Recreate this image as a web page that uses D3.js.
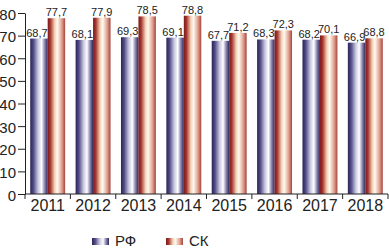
<!DOCTYPE html>
<html>
<head>
<meta charset="utf-8">
<script src="https://cdn.jsdelivr.net/npm/d3@7"></script>
<style>
  body { margin: 0; background: #fff; }
  svg text { font-family: "Liberation Sans Narrow", "Arial Narrow", "Liberation Sans", sans-serif; fill: #222; }
</style>
</head>
<body>
<svg id="chart" width="389" height="248"></svg>
<script>
let years = ["2011", "2012", "2013", "2014", "2015", "2016", "2017", "2018"];
let rf = [68.7, 68.1, 69.3, 69.1, 67.7, 68.3, 68.2, 66.9];
let sk = [77.7, 77.9, 78.5, 78.8, 71.2, 72.3, 70.1, 68.8];
let seriesNames = ["РФ", "СК"];
let yTicks = [0, 10, 20, 30, 40, 50, 60, 70, 80];

let svg = d3.select("#chart");
let mLeft = 25, mRight = 388, mTop = 13, mBottom = 194;

let x = d3.scaleBand().domain(years).range([mLeft, mRight]).paddingInner(0.23).paddingOuter(0.115);
let y = d3.scaleLinear().domain([0, 80]).range([mBottom, mTop]);
let barW = x.bandwidth() / 2;

// cylinder-like gradients
let defs = svg.append("defs");
function grad(id, stops) {
    let g = defs.append("linearGradient").attr("id", id)
        .attr("x1", "0%").attr("x2", "100%").attr("y1", "0%").attr("y2", "0%");
    stops.forEach(s => g.append("stop").attr("offset", s[0]).attr("stop-color", s[1]));
}
grad("gBlue", [["0%", "#2a2456"], ["18%", "#4e4a84"], ["45%", "#c9c7df"], ["65%", "#ffffff"], ["82%", "#8e8ab4"], ["100%", "#2c2658"]]);
grad("gRed", [["0%", "#7a1a1a"], ["15%", "#a5342e"], ["40%", "#f3d2b6"], ["55%", "#fffaf1"], ["80%", "#e2a392"], ["100%", "#a4463e"]]);
let fills = ["url(#gBlue)", "url(#gRed)"];

// y axis
let yAxis = svg.append("g")
    .attr("transform", `translate(${mLeft},0)`)
    .call(d3.axisLeft(y).tickValues(yTicks).tickSize(7).tickSizeOuter(0).tickPadding(2));
yAxis.selectAll("text").style("font-size", "15px").attr("dy", "0.4em");
yAxis.selectAll("line, path").attr("stroke", "#222");

// bars
[rf, sk].forEach((vals, si) => {
    svg.append("g").selectAll("rect")
        .data(vals)
        .enter()
        .append("rect")
        .attr("x", (d, i) => x(years[i]) + si * barW)
        .attr("y", d => y(d))
        .attr("width", barW)
        .attr("height", d => y(0) - y(d))
        .attr("fill", fills[si]);

    svg.append("g").selectAll("text")
        .data(vals)
        .enter()
        .append("text")
        .attr("x", (d, i) => x(years[i]) + si * barW + barW / 2 - (si === 0 ? 2 : 0))
        .attr("y", d => y(d) - 2)
        .attr("text-anchor", "middle")
        .style("font-size", "11px")
        .text(d => d.toFixed(1).replace(".", ","));
});

// x axis
let xAxis = svg.append("g")
    .attr("transform", `translate(0,${mBottom})`)
    .call(d3.axisBottom(x).tickSize(0).tickPadding(5));
xAxis.select(".domain").remove();
xAxis.selectAll("text").style("font-size", "16px").attr("dy", "0.75em");

svg.append("line")
    .attr("x1", mLeft).attr("x2", mRight)
    .attr("y1", mBottom).attr("y2", mBottom)
    .attr("stroke", "#222");
svg.append("g").selectAll("line")
    .data(d3.range(years.length + 1))
    .enter()
    .append("line")
    .attr("x1", i => mLeft + i * x.step())
    .attr("x2", i => mLeft + i * x.step())
    .attr("y1", mBottom)
    .attr("y2", mBottom + 5)
    .attr("stroke", "#222");

// legend
let legendX = [92, 166];
let legend = svg.append("g").selectAll("g")
    .data(seriesNames)
    .enter()
    .append("g")
    .attr("transform", (d, i) => `translate(${legendX[i]},238)`);
legend.append("rect")
    .attr("width", 17)
    .attr("height", 7)
    .attr("fill", (d, i) => fills[i]);
legend.append("text")
    .attr("x", 23)
    .attr("y", 8)
    .style("font-size", "15px")
    .text(d => d);
</script>
</body>
</html>
